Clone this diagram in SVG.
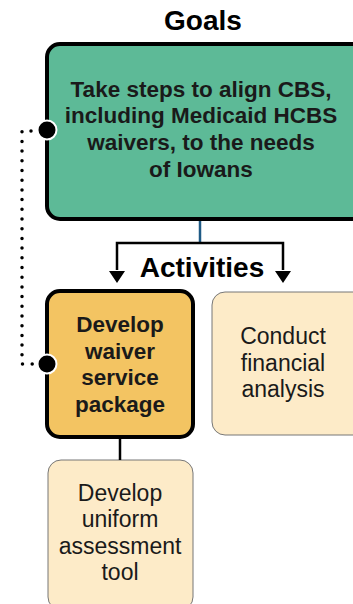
<svg xmlns="http://www.w3.org/2000/svg" width="353" height="604" viewBox="0 0 353 604">
<style>
.t{font-family:"Liberation Sans",Arial,sans-serif;text-anchor:middle;fill:#1a1a1a}
.b{font-weight:bold}
.h{font-size:28px;font-weight:bold;fill:#000}
.s{font-size:22.5px}
.r{font-size:23px}
</style>
<rect width="353" height="604" fill="#fff"/>
<text class="t h" x="203" y="30">Goals</text>
<text class="t h" x="202" y="277">Activities</text>
<g id="goal">
<rect x="47" y="44" width="320" height="175" rx="13" fill="#5dba97" stroke="#000" stroke-width="4"/>
<text class="t b s" x="201" y="97">Take steps to align CBS,</text>
<text class="t b s" x="201" y="123">including Medicaid HCBS</text>
<text class="t b s" x="201" y="150">waivers, to the needs</text>
<text class="t b s" x="201" y="177">of Iowans</text>
</g>
<g id="waiver">
<rect x="47" y="291" width="146" height="146" rx="13" fill="#f3c462" stroke="#000" stroke-width="4"/>
<text class="t b s" x="120" y="332">Develop</text>
<text class="t b s" x="120" y="359">waiver</text>
<text class="t b s" x="120" y="385">service</text>
<text class="t b s" x="120" y="412">package</text>
</g>
<g id="financial">
<rect x="212" y="292" width="160" height="143" rx="13" fill="#fdebc8" stroke="#777" stroke-width="1"/>
<text class="t r" x="283" y="344">Conduct</text>
<text class="t r" x="283" y="371">financial</text>
<text class="t r" x="283" y="397">analysis</text>
</g>
<g id="assessment">
<rect x="48" y="460" width="145" height="150" rx="13" fill="#fdebc8" stroke="#777" stroke-width="1"/>
<text class="t r" x="120" y="501">Develop</text>
<text class="t r" x="120" y="527">uniform</text>
<text class="t r" x="120" y="554">assessment</text>
<text class="t r" x="120" y="580">tool</text>
</g>
<g id="connectors">
<line x1="200" y1="221" x2="200" y2="243" stroke="#1f5a85" stroke-width="2.5"/>
<path d="M117,270 L117,243 L283,243 L283,270" fill="none" stroke="#000" stroke-width="2.5"/>
<path d="M109,271 L125,271 L117,283 z M275,271 L291,271 L283,283 z" fill="#000"/>
<line x1="120" y1="439" x2="120" y2="460" stroke="#000" stroke-width="2.5"/>
<path d="M31,131 L22,131 L22,364 L33,364" fill="none" stroke="#000" stroke-width="3.5" stroke-linecap="round" stroke-dasharray="0 9.7"/>
<circle cx="47" cy="130" r="9.5" fill="#000" stroke="#fff" stroke-width="2"/>
<circle cx="47" cy="364" r="9.5" fill="#000" stroke="#fff" stroke-width="2"/>
</g>
</svg>
